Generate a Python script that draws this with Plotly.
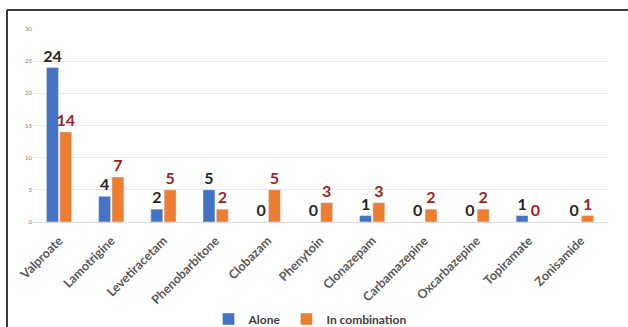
import plotly.graph_objects as go

drugs = ["Valproate", "Lamotrigine", "Levetiracetam", "Phenobarbitone", "Clobazam",
         "Phenytoin", "Clonazepam", "Carbamazepine", "Oxcarbazepine", "Topiramate", "Zonisamide"]
alone = [24, 4, 2, 5, 0, 0, 1, 0, 0, 1, 0]
combination = [14, 7, 5, 2, 5, 3, 3, 2, 2, 0, 1]
y_ticks = [0, 5, 10, 15, 20, 25, 30]

W, H = 628, 327
L, R, T, B = 33, 21, 29, 105
pw, ph = W - L - R, H - T - B

font = "Lato, 'Open Sans', sans-serif"

fig = go.Figure()
fig.add_trace(go.Bar(
    x=drugs, y=alone, name="Alone", marker_color="#4472C4",
    text=[str(v) for v in alone], textposition="outside", constraintext="none",
    textfont=dict(family=font, size=16, color="#262626", weight="bold"),
    cliponaxis=False,
))
fig.add_trace(go.Bar(
    x=drugs, y=combination, name="In combination", marker_color="#ED7D31",
    text=[str(v) for v in combination], textposition="outside", constraintext="none",
    textfont=dict(family=font, size=16, color="#A31D24", weight="bold"),
    cliponaxis=False,
))

fig.update_layout(
    width=W, height=H, autosize=False,
    margin=dict(l=L, r=R, t=T, b=B, autoexpand=False),
    paper_bgcolor="white", plot_bgcolor="white",
    barmode="group", bargap=0.49, bargroupgap=0.1,
    font=dict(family=font),
    showlegend=True,
    legend=dict(orientation="h", x=0.5 - 10 / pw, xanchor="center", y=(222 - 319) / ph, yanchor="middle",
                font=dict(family=font, size=12, color="#404040", weight="bold"),
                itemwidth=30, traceorder="normal"),
    xaxis=dict(tickangle=-45, tickfont=dict(family=font, size=12.5, color="#595959", weight="bold"),
               ticklabelstandoff=8,
               showline=False, ticks="", showgrid=False, automargin=False),
    yaxis=dict(range=[0, 30], tickvals=y_ticks, tickfont=dict(family=font, size=6, color="#808080"),
               showgrid=True, gridcolor="#E8E8E8", gridwidth=1, zeroline=True,
               zerolinecolor="#D9D9D9", zerolinewidth=1, showline=False, ticks="", automargin=False),
    shapes=[
        dict(type="line", xref="paper", yref="paper",
             x0=(7 - L) / pw, x1=(7 - L) / pw, y0=1 + (T - 10) / ph, y1=-(B + 5) / ph,
             line=dict(color="#3a3a3a", width=2)),
        dict(type="line", xref="paper", yref="paper",
             x0=(7 - L) / pw, x1=(W + 5 - L) / pw, y0=1 + (T - 10) / ph, y1=1 + (T - 10) / ph,
             line=dict(color="#3a3a3a", width=2)),
    ],
)

fig.write_html("out.html")
